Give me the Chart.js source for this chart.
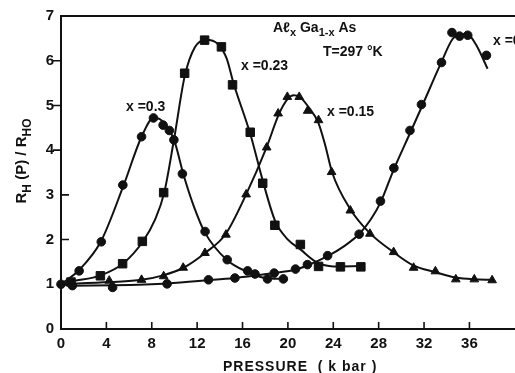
<!DOCTYPE html>
<html>
<head>
<meta charset="utf-8">
<script src="https://cdn.jsdelivr.net/npm/chart.js@4/dist/chart.umd.min.js"></script>
<style>
  html, body { margin: 0; padding: 0; background: #fff; overflow: hidden; }
  #wrap { width: 515px; height: 373px; }
</style>
</head>
<body>
<div id="wrap"><canvas id="c" width="515" height="373"></canvas></div>
<script>
// Measured points: pressure (kbar) and Hall ratio R_H(P)/R_H0 for each composition
const p030 = [0, 1.6, 3.55, 5.45, 7.1, 8.15, 9.0, 9.55, 9.95, 10.7, 12.7, 14.65, 16.45, 17.1, 18.2, 19.6];
const r030 = [1.0, 1.3, 1.95, 3.22, 4.3, 4.72, 4.56, 4.44, 4.23, 3.47, 2.18, 1.55, 1.3, 1.23, 1.12, 1.12];

const p023 = [0.88, 3.47, 5.43, 7.17, 9.05, 10.9, 12.66, 14.14, 15.12, 16.68, 17.78, 18.85, 21.1, 22.7, 24.63, 26.43];
const r023 = [1.05, 1.19, 1.46, 1.96, 3.05, 5.72, 6.46, 6.31, 5.46, 4.4, 3.26, 2.32, 1.89, 1.4, 1.39, 1.39];

const p015 = [4.25, 7.1, 9.05, 10.77, 12.69, 14.54, 16.32, 18.13, 19.14, 19.95, 21.0, 21.74, 22.7, 23.85, 25.5, 27.23, 29.32, 31.08, 33.0, 34.8, 36.43, 38.0];
const r015 = [1.08, 1.1, 1.18, 1.37, 1.7, 2.11, 3.01, 4.06, 4.82, 5.19, 5.19, 4.88, 4.67, 3.51, 2.65, 2.13, 1.72, 1.37, 1.29, 1.11, 1.11, 1.09];

const p000 = [1.0, 4.55, 9.35, 13.0, 15.33, 18.79, 20.67, 21.72, 23.5, 26.28, 28.16, 29.34, 30.76, 31.77, 33.54, 34.46, 35.13, 35.85, 37.5];
const r000 = [0.97, 0.93, 1.01, 1.1, 1.14, 1.25, 1.34, 1.44, 1.64, 2.12, 2.86, 3.6, 4.44, 5.02, 5.96, 6.63, 6.55, 6.57, 6.12];

// Smooth guide curves drawn through each set of points
const cp030 = [0, 1.6, 3.5, 5.5, 7.1, 8.2, 9.2, 10.0, 10.8, 11.7, 12.7, 14.6, 16.4, 18.0, 19.6];
const cr030 = [1.0, 1.32, 1.95, 3.2, 4.3, 4.73, 4.58, 4.2, 3.45, 2.75, 2.15, 1.55, 1.28, 1.14, 1.12];

const cp023 = [0, 0.9, 3.5, 5.5, 7.2, 8.3, 9.1, 10.0, 10.9, 11.8, 12.8, 13.8, 14.6, 15.2, 16.7, 17.8, 18.9, 20.0, 21.1, 22.5, 24.0, 26.5];
const cr023 = [1.0, 1.06, 1.2, 1.47, 1.95, 2.45, 3.05, 4.3, 5.65, 6.3, 6.47, 6.38, 6.05, 5.5, 4.35, 3.3, 2.4, 2.0, 1.78, 1.5, 1.4, 1.41];

const cp015 = [0, 4.3, 7.1, 9.0, 10.8, 12.7, 14.5, 16.3, 18.1, 19.2, 20.0, 20.5, 21.0, 21.8, 22.7, 23.3, 23.9, 25.5, 27.2, 29.3, 31.0, 33.0, 34.8, 36.4, 38.0];
const cr015 = [1.0, 1.05, 1.1, 1.2, 1.37, 1.7, 2.12, 3.0, 4.05, 4.8, 5.15, 5.23, 5.2, 4.97, 4.6, 4.1, 3.5, 2.68, 2.15, 1.72, 1.43, 1.27, 1.15, 1.11, 1.1];

const cp000 = [0, 1.0, 4.6, 9.4, 13.0, 15.3, 17.0, 18.8, 20.7, 21.7, 23.5, 25.0, 26.3, 27.3, 28.2, 29.3, 30.8, 31.8, 33.5, 34.5, 35.2, 35.9, 36.6, 37.6];
const cr000 = [1.0, 0.97, 0.98, 1.02, 1.09, 1.14, 1.19, 1.25, 1.33, 1.42, 1.63, 1.86, 2.13, 2.45, 2.85, 3.55, 4.4, 4.97, 5.95, 6.48, 6.6, 6.58, 6.35, 5.82];

const xTicks = [0, 4, 8, 12, 16, 20, 24, 28, 32, 36];
const yTicks = [0, 1, 2, 3, 4, 5, 6, 7];

const INK = '#111';
const FONT = '"Liberation Sans", Arial, sans-serif';

const pairs = (xs, ys) => xs.map((v, i) => ({ x: v, y: ys[i] }));

function pointSet(xs, ys, style, r) {
  return {
    data: pairs(xs, ys), showLine: false, pointStyle: style, pointRadius: r,
    pointBackgroundColor: INK, pointBorderColor: INK, pointBorderWidth: 1, clip: false
  };
}
function curve(xs, ys) {
  return {
    data: pairs(xs, ys), showLine: true, pointRadius: 0, borderColor: INK, borderWidth: 2,
    cubicInterpolationMode: 'monotone', fill: false, clip: false
  };
}

// draw a run of text pieces, some of them subscripted
function richText(ctx, parts, x, y, size) {
  let cx = x;
  for (const [t, sub] of parts) {
    const s = sub ? Math.round(size * 0.78) : size;
    ctx.font = `bold ${s}px ${FONT}`;
    ctx.fillText(t, cx, sub ? y + size * 0.3 : y);
    cx += ctx.measureText(t).width;
  }
  return cx - x;
}
function richWidth(ctx, parts, size) {
  let w = 0;
  for (const [t, sub] of parts) {
    const s = sub ? Math.round(size * 0.78) : size;
    ctx.font = `bold ${s}px ${FONT}`;
    w += ctx.measureText(t).width;
  }
  return w;
}

const decor = {
  id: 'decor',
  beforeDatasetsDraw(chart) {
    const { ctx, chartArea, scales: { x, y } } = chart;
    const x0 = x.getPixelForValue(0), yb = y.getPixelForValue(0), yt = y.getPixelForValue(7);
    ctx.save();
    ctx.strokeStyle = INK;
    ctx.lineWidth = 2;
    ctx.beginPath();
    ctx.moveTo(chartArea.right + 10, yt);
    ctx.lineTo(x0, yt);
    ctx.lineTo(x0, yb);
    ctx.lineTo(chartArea.right + 10, yb);
    ctx.stroke();
    ctx.lineWidth = 1.6;
    ctx.beginPath();
    for (const v of xTicks) {
      const px = x.getPixelForValue(v);
      ctx.moveTo(px, yb); ctx.lineTo(px, yb - 7);
    }
    for (const v of yTicks) {
      if (v === 0 || v === 7) continue;
      const py = y.getPixelForValue(v);
      if (v >= 4) { ctx.moveTo(x0 - 8, py); ctx.lineTo(x0, py); }
      else { ctx.moveTo(x0, py); ctx.lineTo(x0 + 8, py); }
    }
    ctx.stroke();
    ctx.restore();
  },
  afterDraw(chart) {
    const { ctx } = chart;
    ctx.save();
    ctx.fillStyle = INK;
    ctx.textBaseline = 'alphabetic';
    ctx.textAlign = 'left';

    // composition labels beside the curves
    const lab = (t, px, py) => { ctx.font = `bold 14px ${FONT}`; ctx.fillText(t, px, py); };
    lab('x =0.3', 126, 111);
    lab('x =0.23', 241, 70);
    lab('x =0.15', 327, 116);
    lab('x =0', 493, 45);

    // material and temperature
    richText(ctx, [['Aℓ', false], ['x', true], [' Ga', false], ['1-x', true], [' As', false]], 273, 32, 14);
    ctx.font = `bold 14px ${FONT}`;
    ctx.fillText('T=297 °K', 323, 56);

    // axis titles
    ctx.font = `bold 14px ${FONT}`;
    ctx.letterSpacing = '1px';
    ctx.fillText('PRESSURE  ( k bar )', 223, 371);
    ctx.letterSpacing = '0px';

    const yParts = [['R', false], ['H', true], [' (P) / R', false], ['HO', true]];
    ctx.translate(21, 161);
    ctx.rotate(-Math.PI / 2);
    const w = richWidth(ctx, yParts, 15);
    richText(ctx, yParts, -w / 2, 5, 15);
    ctx.restore();
  }
};

new Chart(document.getElementById('c'), {
  type: 'scatter',
  data: {
    datasets: [
      curve(cp030, cr030), curve(cp023, cr023), curve(cp015, cr015), curve(cp000, cr000),
      pointSet(p030, r030, 'circle', 4.3),
      pointSet(p023, r023, 'rect', 6),
      pointSet(p015, r015, 'triangle', 5),
      pointSet(p000, r000, 'circle', 4.3)
    ]
  },
  options: {
    responsive: false,
    animation: false,
    devicePixelRatio: 1,
    layout: { padding: { top: 15, right: 0, left: 0, bottom: 0 } },
    plugins: { legend: { display: false }, tooltip: { enabled: false } },
    scales: {
      x: {
        type: 'linear', min: 0, max: 39.4,
        grid: { display: false, drawTicks: false },
        border: { display: false },
        afterBuildTicks: s => { s.ticks = xTicks.map(v => ({ value: v })); },
        afterFit: s => { s.height = 44; },
        ticks: { color: INK, padding: 6, maxRotation: 0, autoSkip: false, font: { family: FONT, size: 15, weight: 'bold' } }
      },
      y: {
        type: 'linear', min: 0, max: 7,
        grid: { display: false, drawTicks: false },
        border: { display: false },
        afterBuildTicks: s => { s.ticks = yTicks.map(v => ({ value: v })); },
        afterFit: s => { s.width = 61; },
        ticks: { color: INK, padding: 7, autoSkip: false, font: { family: FONT, size: 15, weight: 'bold' } }
      }
    }
  },
  plugins: [decor]
});
</script>
</body>
</html>
